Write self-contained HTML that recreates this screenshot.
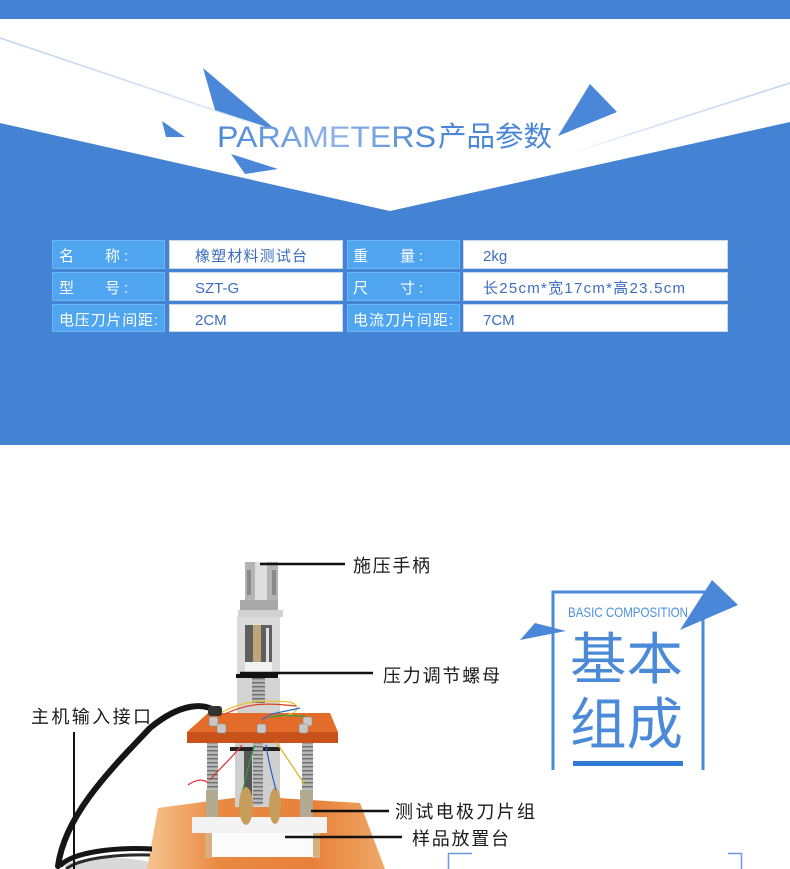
<!DOCTYPE html>
<html><head><meta charset="utf-8">
<style>
html,body{margin:0;padding:0;background:#fff;}
svg{display:block;}
.cn{font-family:"Liberation Sans","Noto Sans CJK SC",sans-serif;}
</style></head>
<body>
<svg width="790" height="869" viewBox="0 0 790 869" xmlns="http://www.w3.org/2000/svg">
<defs>
  <linearGradient id="lnL" x1="0" y1="0" x2="1" y2="0">
    <stop offset="0" stop-color="#c3d6f2"/><stop offset="0.8" stop-color="#d6e3f6"/><stop offset="1" stop-color="#ffffff"/>
  </linearGradient>
  <linearGradient id="lnR" x1="0" y1="0" x2="1" y2="0">
    <stop offset="0" stop-color="#ffffff"/><stop offset="0.3" stop-color="#d6e3f6"/><stop offset="1" stop-color="#c3d6f2"/>
  </linearGradient>
  <linearGradient id="ttl" x1="0" y1="0" x2="1" y2="0">
    <stop offset="0" stop-color="#4a87d8"/><stop offset="0.55" stop-color="#8fb3e8"/><stop offset="1" stop-color="#4a87d8"/>
  </linearGradient>
  <linearGradient id="base" x1="0" y1="0" x2="1" y2="0">
    <stop offset="0" stop-color="#f6c48e"/><stop offset="0.3" stop-color="#e98a42"/><stop offset="0.7" stop-color="#e7813a"/><stop offset="1" stop-color="#f0a868"/>
  </linearGradient>
  <pattern id="thread" width="6" height="4" patternUnits="userSpaceOnUse">
    <rect width="6" height="4" fill="#b8b8b8"/><rect y="2" width="6" height="1.4" fill="#6f6f6f"/>
  </pattern>
</defs>

<!-- ===== Header ===== -->
<rect x="0" y="0" width="790" height="19" fill="#4482d4"/>
<polygon points="0,123 390,211 790,122 790,445 0,445" fill="#4482d4"/>
<line x1="0" y1="38" x2="276" y2="131" stroke="url(#lnL)" stroke-width="1.6"/>
<line x1="568" y1="154" x2="790" y2="83" stroke="url(#lnR)" stroke-width="1.6"/>

<polygon points="203,68 215,110 276,130" fill="#4a87d8"/>
<polygon points="162,121 166,137 185,137" fill="#4a87d8"/>
<polygon points="231,154 245,174 278,169" fill="#4a87d8"/>
<polygon points="590,84 617,112 558,136" fill="#4a87d8"/>

<text x="217" y="147" font-family="Liberation Sans, sans-serif" font-size="30" font-weight="100" fill="url(#ttl)" textLength="219" lengthAdjust="spacingAndGlyphs">PARAMETERS</text>
<text x="438" y="146" class="cn" font-size="28" fill="#4a87d8" textLength="114" lengthAdjust="spacingAndGlyphs">产品参数</text>

<!-- ===== Table ===== -->
<g stroke="#6cb4f3" stroke-width="1" fill="#4fa5f0">
  <rect x="52.5" y="240.5" width="112" height="28"/>
  <rect x="52.5" y="272.5" width="112" height="28"/>
  <rect x="52.5" y="304.5" width="112" height="27"/>
  <rect x="347.5" y="240.5" width="112" height="28"/>
  <rect x="347.5" y="272.5" width="112" height="28"/>
  <rect x="347.5" y="304.5" width="112" height="27"/>
</g>
<g stroke="#c8d8ef" stroke-width="1" fill="#ffffff">
  <rect x="169.5" y="240.5" width="173" height="28"/>
  <rect x="169.5" y="272.5" width="173" height="28"/>
  <rect x="169.5" y="304.5" width="173" height="27"/>
  <rect x="463.5" y="240.5" width="264" height="28"/>
  <rect x="463.5" y="272.5" width="264" height="28"/>
  <rect x="463.5" y="304.5" width="264" height="27"/>
</g>
<g class="cn" font-size="15" fill="#ffffff">
  <text x="59" y="261">名</text><text x="105" y="261">称</text><text x="124" y="261">:</text>
  <text x="59" y="293">型</text><text x="105" y="293">号</text><text x="124" y="293">:</text>
  <text x="59" y="325" textLength="99" lengthAdjust="spacing">电压刀片间距:</text>
  <text x="353" y="261">重</text><text x="400" y="261">量</text><text x="419" y="261">:</text>
  <text x="353" y="293">尺</text><text x="400" y="293">寸</text><text x="419" y="293">:</text>
  <text x="353" y="325" textLength="100" lengthAdjust="spacing">电流刀片间距:</text>
</g>
<g class="cn" font-size="15" fill="#3c6dbf">
  <text x="195" y="261" textLength="112" lengthAdjust="spacing">橡塑材料测试台</text>
  <text x="195" y="293">SZT-G</text>
  <text x="195" y="325">2CM</text>
  <text x="483" y="261">2kg</text>
  <text x="483" y="293" textLength="202" lengthAdjust="spacing">长25cm*宽17cm*高23.5cm</text>
  <text x="483" y="325">7CM</text>
</g>

<!-- ===== Basic composition badge ===== -->
<g stroke="#4a8ad8" stroke-width="3" fill="none">
  <polyline points="705,592 553,592 553,770"/>
  <line x1="703" y1="612" x2="703" y2="770"/>
</g>
<polygon points="712,580 738,605 680,630" fill="#4a87d8"/>
<polygon points="520,640 535,623 566,631" fill="#4a87d8"/>
<text x="568" y="617" font-family="Liberation Sans, sans-serif" font-size="14" fill="#4a90e2" textLength="120" lengthAdjust="spacingAndGlyphs">BASIC COMPOSITION</text>
<text x="570" y="679" class="cn" font-size="56" fill="#4a8ad8" textLength="113" lengthAdjust="spacingAndGlyphs">基本</text>
<text x="570" y="744" class="cn" font-size="56" fill="#4a8ad8" textLength="113" lengthAdjust="spacingAndGlyphs">组成</text>
<rect x="573" y="761" width="110" height="5" fill="#2f7bd8"/>

<!-- brackets -->
<path d="M448.5,869 V853.5 H472" stroke="#6a9ae0" stroke-width="1.5" fill="none"/>
<path d="M728,853.5 H741.5 V869" stroke="#6a9ae0" stroke-width="1.5" fill="none"/>

<!-- ===== Product drawing ===== -->
<ellipse cx="110" cy="866" rx="45" ry="8" fill="#d9d9d9"/>
<polygon points="147,869 158,808 233,798 278,798 360,803 385,869" fill="url(#base)"/>
<rect x="235" y="743" width="45" height="64" fill="#cfcfcf"/>
<rect x="244" y="750" width="8" height="55" fill="#555"/>
<rect x="230" y="747" width="50" height="4" fill="#222"/>
<rect x="245" y="562" width="33" height="41" fill="#b4b4b4"/>
<rect x="255" y="562" width="12" height="41" fill="#dedede"/>
<rect x="247" y="570" width="4" height="25" fill="#8a8a8a"/>
<rect x="272" y="570" width="4" height="25" fill="#8a8a8a"/>
<rect x="240" y="600" width="38" height="12" fill="#a9a9a9"/>
<rect x="238" y="610" width="45" height="7" fill="#d2d2d2"/>
<rect x="237" y="617" width="43" height="58" fill="#dadada"/>
<rect x="245" y="625" width="27" height="40" fill="#5f5f5f"/>
<rect x="253" y="625" width="8" height="40" fill="#bfa57a"/>
<rect x="266" y="628" width="3" height="34" fill="#e0e0e0"/>
<rect x="245" y="662" width="27" height="11" fill="#f2f2f2"/>
<rect x="236" y="674" width="42" height="4" fill="#111"/>
<rect x="237" y="678" width="43" height="35" fill="#d4d4d4"/>
<rect x="252" y="678" width="13" height="25" fill="url(#thread)"/>
<polygon points="208,713 330,713 338,732 187,732" fill="#e36c2a"/>
<rect x="187" y="732" width="151" height="11" fill="#c9521c"/>
<g fill="#c8c8c8" stroke="#888" stroke-width="0.6">
  <rect x="209" y="717" width="9" height="9" rx="2"/>
  <rect x="217" y="724" width="9" height="9" rx="2"/>
  <rect x="257" y="724" width="9" height="9" rx="2"/>
  <rect x="303" y="717" width="9" height="9" rx="2"/>
  <rect x="299" y="724" width="9" height="9" rx="2"/>
</g>
<rect x="207" y="743" width="11" height="47" fill="url(#thread)"/>
<rect x="302" y="743" width="11" height="47" fill="url(#thread)"/>
<rect x="253" y="743" width="10" height="62" fill="url(#thread)"/>
<rect x="206" y="790" width="12" height="35" fill="#b3aa92"/>
<rect x="300" y="790" width="13" height="35" fill="#b3aa92"/>
<rect x="192" y="817" width="135" height="16" fill="#f3f3f3"/>
<rect x="205" y="833" width="8" height="25" fill="#d8b080"/>
<rect x="312" y="833" width="8" height="25" fill="#d8b080"/>
<rect x="212" y="833" width="101" height="24" fill="#fbfbfb"/>
<ellipse cx="246" cy="806" rx="7" ry="19" fill="#c79d5c"/>
<ellipse cx="275" cy="806" rx="6" ry="18" fill="#c79d5c"/>
<g fill="none" stroke-width="1.2">
  <path d="M222,712 C245,700 265,700 290,702 C300,705 300,712 285,716" stroke="#f0c020"/>
  <path d="M225,714 C250,702 270,703 296,706" stroke="#e04020"/>
  <path d="M262,720 C270,712 285,712 300,708" stroke="#2a70d0"/>
  <path d="M270,718 C280,714 290,716 305,716" stroke="#30a040"/>
  <path d="M210,780 C218,770 230,760 242,745" stroke="#e03030"/>
  <path d="M305,785 C295,770 285,755 276,742" stroke="#e0b020"/>
  <path d="M243,790 C246,775 250,760 255,745" stroke="#30a040"/>
  <path d="M276,790 C272,775 268,760 266,745" stroke="#2a60c0"/>
  <path d="M188,785 C195,780 203,778 208,783" stroke="#e03030"/>
</g>
<path d="M216,712 C205,702 180,703 150,728 C110,770 65,815 58,866" stroke="#151515" stroke-width="6" fill="none" stroke-linecap="round"/>
<path d="M60,866 C72,852 115,847 152,849" stroke="#151515" stroke-width="5" fill="none"/>
<path d="M66,869 C80,858 118,854 150,855" stroke="#2a2a2a" stroke-width="3" fill="none"/>
<rect x="208" y="706" width="14" height="10" rx="3" fill="#333"/>

<!-- ===== Labels & leader lines ===== -->
<g stroke="#111" stroke-width="2.5">
  <line x1="260" y1="564" x2="345" y2="564"/>
  <line x1="240" y1="673" x2="373" y2="673"/>
  <line x1="311" y1="811" x2="389" y2="811"/>
  <line x1="285" y1="837" x2="402" y2="837"/>
</g>
<line x1="74" y1="732" x2="74" y2="869" stroke="#111" stroke-width="2"/>
<g class="cn" font-size="18" fill="#1a1a1a">
  <text x="353" y="572" textLength="77" lengthAdjust="spacing">施压手柄</text>
  <text x="383" y="682" textLength="117" lengthAdjust="spacing">压力调节螺母</text>
  <text x="31" y="723" textLength="120" lengthAdjust="spacing">主机输入接口</text>
  <text x="395" y="818" textLength="140" lengthAdjust="spacing">测试电极刀片组</text>
  <text x="412" y="845" textLength="97" lengthAdjust="spacing">样品放置台</text>
</g>
</svg>
</body></html>
